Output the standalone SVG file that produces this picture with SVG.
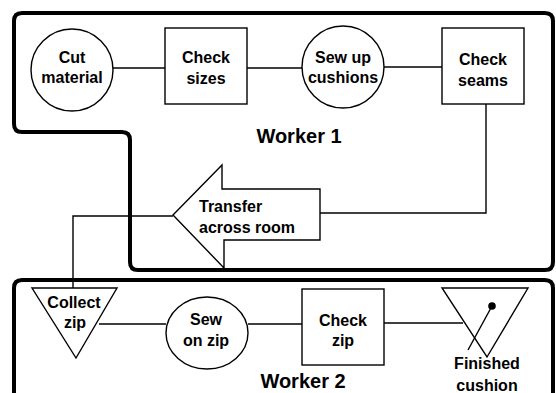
<svg xmlns="http://www.w3.org/2000/svg" width="556" height="393" viewBox="0 0 556 393">
<style>
.bg{fill:#fff}
.lane{fill:none;stroke:#000;stroke-width:4;stroke-linejoin:round}
.shape{fill:#fff;stroke:#000;stroke-width:1.4}
.conn{fill:none;stroke:#000;stroke-width:1.4}
text{font-family:"Liberation Sans",Arial,sans-serif;font-weight:bold;font-size:16px;text-anchor:middle;fill:#000}
.lbl{font-size:20px}
</style>
<rect class="bg" x="0" y="0" width="556" height="393"/>
<g id="worker1">
<path class="lane" d="M14,21 V124 Q14,132 22,132 H122 Q130,132 130,140 V262 Q130,270 138,270 H545 Q553,270 553,262 V21 Q553,13 545,13 H22 Q14,13 14,21 Z"/>
<text class="lbl" x="299" y="143">Worker 1</text>
</g>
<g id="worker2">
<path class="lane" d="M14,400 V288 Q14,280 22,280 H545 Q553,280 553,288 V400"/>
<text class="lbl" x="303" y="388">Worker 2</text>
</g>
<g id="connectors">
<line class="conn" x1="113" y1="68" x2="165" y2="68"/>
<line class="conn" x1="247" y1="68" x2="302" y2="68"/>
<line class="conn" x1="384" y1="67" x2="442" y2="67"/>
<polyline class="conn" points="486,104 486,213 320,213"/>
<polyline class="conn" points="173,216 73,216 73,288"/>
<line class="conn" x1="99" y1="324" x2="166" y2="324"/>
<line class="conn" x1="248" y1="324" x2="302" y2="324"/>
<line class="conn" x1="384" y1="323" x2="463" y2="323"/>
</g>
<g id="cut-material">
<circle class="shape" cx="72" cy="70" r="41"/>
<text x="72" y="63">Cut</text>
<text x="72" y="83">material</text>
</g>
<g id="check-sizes">
<rect class="shape" x="165" y="28" width="82" height="76"/>
<text x="206" y="63">Check</text>
<text x="206" y="84">sizes</text>
</g>
<g id="sew-up-cushions">
<circle class="shape" cx="343" cy="67" r="41"/>
<text x="343" y="63">Sew up</text>
<text x="343" y="83">cushions</text>
</g>
<g id="check-seams">
<rect class="shape" x="442" y="28" width="82" height="76"/>
<text x="483" y="65">Check</text>
<text x="483" y="86">seams</text>
</g>
<g id="transfer">
<polygon class="shape" points="173,215 222,165 222,189 320,189 320,240 224,240 224,268"/>
<text x="199" y="212" style="text-anchor:start">Transfer</text>
<text x="199" y="233" style="text-anchor:start">across room</text>
</g>
<g id="collect-zip">
<polygon class="shape" points="32,288 117,288 76,358"/>
<text x="74" y="308">Collect</text>
<text x="75" y="328">zip</text>
</g>
<g id="sew-on-zip">
<ellipse class="shape" cx="207" cy="333" rx="41" ry="36"/>
<text x="206" y="325">Sew</text>
<text x="206" y="346">on zip</text>
</g>
<g id="check-zip">
<rect class="shape" x="302" y="289" width="82" height="76"/>
<text x="343" y="326">Check</text>
<text x="343" y="346">zip</text>
</g>
<g id="finished-cushion">
<polygon class="shape" points="442,288 528,288 487,357"/>
<line class="conn" x1="492" y1="306" x2="468" y2="350"/>
<circle cx="492" cy="306" r="3.8" fill="#000"/>
<text x="487" y="369">Finished</text>
<text x="487" y="391">cushion</text>
</g>
</svg>
